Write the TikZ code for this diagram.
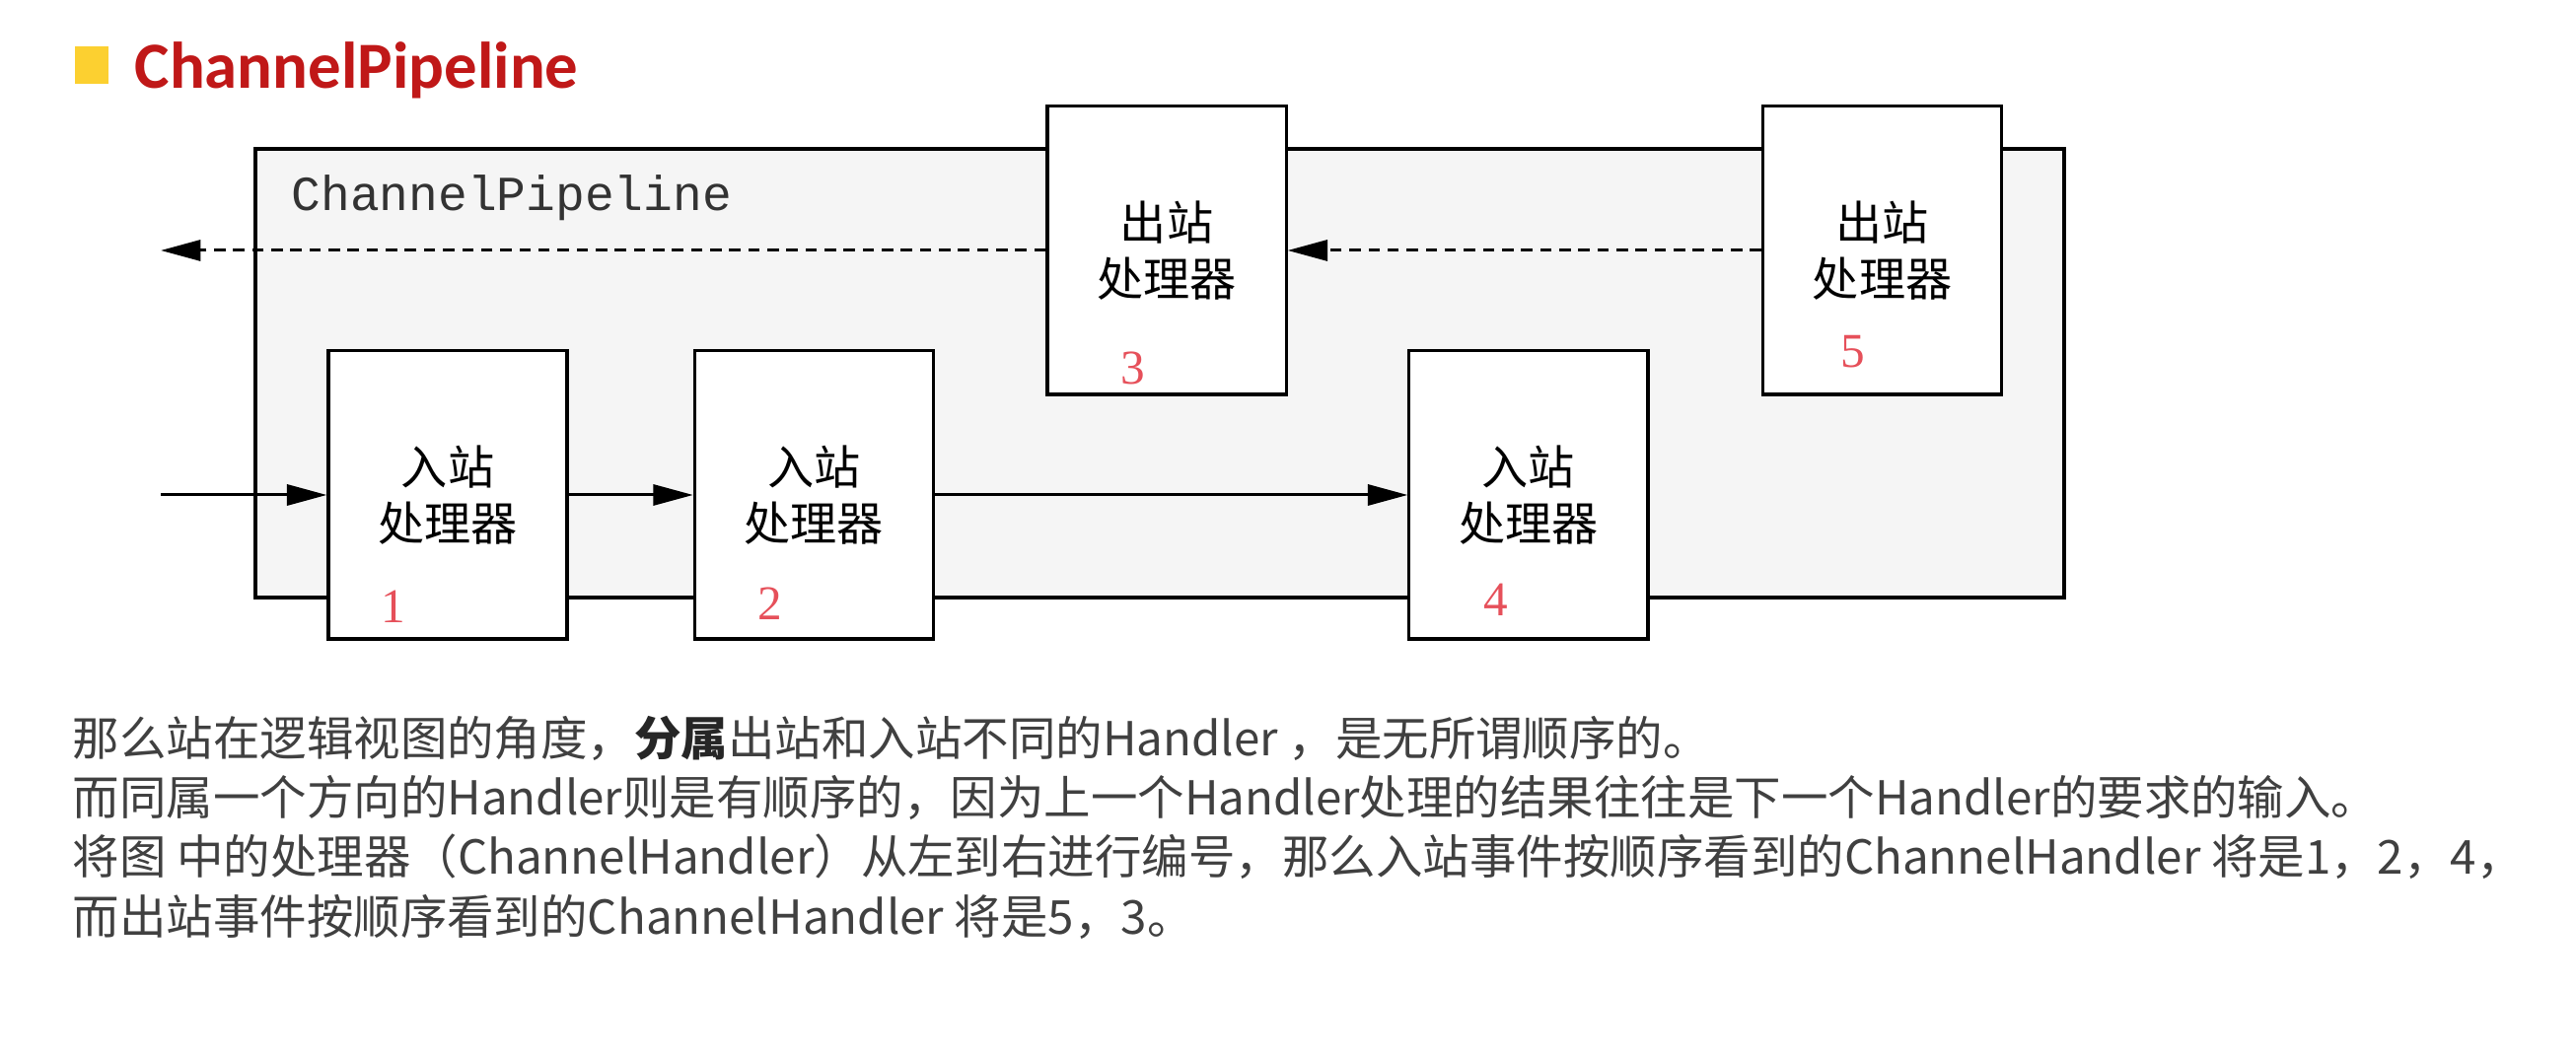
\documentclass[tikz,border=0pt]{standalone}
\usepackage{fontspec}
\setmainfont{Noto Sans CJK SC}
\setmonofont{Liberation Mono}
\newfontfamily\titlefont{Carlito}
\newfontfamily\numfont{Liberation Serif}
\usepackage{tikz}
\usetikzlibrary{positioning}
\usetikzlibrary{arrows.meta}
\definecolor{titlered}{RGB}{192,24,24}
\definecolor{bulletyellow}{RGB}{252,208,48}
\definecolor{pipegray}{RGB}{245,245,245}
\definecolor{numred}{RGB}{230,80,90}
\definecolor{textgray}{RGB}{64,64,64}

\begin{document}
\begin{tikzpicture}[x=0.01cm, y=-0.01cm,
    every node/.style = {inner sep=0pt},
      handler/.style = {draw, fill=white, line width=0.9pt, minimum width=2.42cm, minimum height=2.92cm, align=center, font=\fontsize{13.4}{16.2}\selectfont},
      num/.style = {text=numred, font=\numfont\fontsize{14}{14}\selectfont},
      line/.style = {anchor=base west, text=textgray, font=\fontsize{13.5}{17}\selectfont},
      dashline/.style = {dash pattern=on 3.3pt off 2.2pt},
      >={Triangle[length=11.5pt, width=6pt]}
    ]
    \fill[white] (0,0) rectangle (2612,1074);
    \useasboundingbox (0,0) rectangle (2612,1074);
    \node[fill=bulletyellow, minimum width=0.34cm, minimum height=0.38cm] (bullet) at (93,66) {};
    \node[anchor=base west, text=titlered, font=\titlefont\bfseries\fontsize{19}{19}\selectfont] (title) at (136,90) {ChannelPipeline};
    \draw[line width=0.9pt, fill=pipegray] (259,151) rectangle (2093,606);
    \node[anchor=base west, text=black!80, font=\ttfamily\fontsize{14.1}{14}\selectfont] (cp) at (295,214) {ChannelPipeline};
    \node[handler] (b1) at (454,502) {入站\\处理器};
    \node[handler] (b2) [right=1.26cm of b1] {入站\\处理器};
    \node[handler] (b4) [right=4.79cm of b2] {入站\\处理器};
    \node[handler] (b3) at (1183,254) {出站\\处理器};
    \node[handler] (b5) [right=4.8cm of b3] {出站\\处理器};
    \node[num] (n1) at ([shift={(67,-34)}]b1.south west) {1};
    \node[num] (n2) at ([shift={(78,-37)}]b2.south west) {2};
    \node[num] (n3) at ([shift={(88,-28)}]b3.south west) {3};
    \node[num] (n4) at ([shift={(89,-41)}]b4.south west) {4};
    \node[num] (n5) at ([shift={(93,-45)}]b5.south west) {5};
    \coordinate (inL) at (163,502);
    \coordinate (outL) at (163,254);
    \draw[->, line width=0.85pt] (inL) -- (b1);
    \draw[->, line width=0.85pt] (b1) -- (b2);
    \draw[->, line width=0.85pt] (b2) -- (b4);
    \draw[->, line width=0.85pt, dashline] (b5) -- (b3);
    \draw[->, line width=0.85pt, dashline] (b3) -- (outL);
    \node[line] (t1) at (73,767) {那么站在逻辑视图的角度，{\color{black!85}\bfseries 分属}出站和入站不同的Handler ，是无所谓顺序的。};
    \node[line] (t2) at (73,827) {而同属一个方向的Handler则是有顺序的，因为上一个Handler处理的结果往往是下一个Handler的要求的输入。};
    \node[line] (t3) at (73,887) {将图 中的处理器（ChannelHandler）从左到右进行编号，那么入站事件按顺序看到的ChannelHandler 将是1，2，4，};
    \node[line] (t4) at (73,948) {而出站事件按顺序看到的ChannelHandler 将是5，3。};
\end{tikzpicture}
\end{document}
